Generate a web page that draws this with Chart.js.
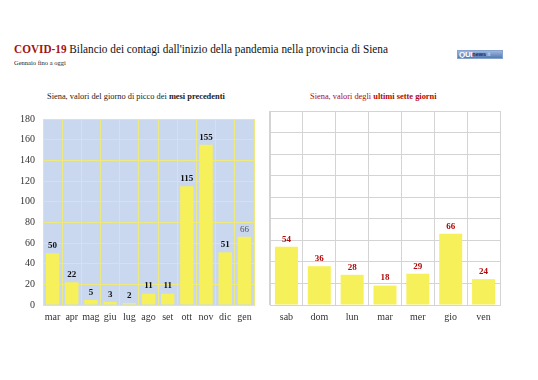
<!DOCTYPE html>
<html><head><meta charset="utf-8">
<script src="https://cdn.jsdelivr.net/npm/chart.js@4/dist/chart.umd.min.js"></script>
<style>
html,body{margin:0;padding:0;background:#fff;width:538px;height:380px;overflow:hidden;font-family:"Liberation Serif","DejaVu Serif",serif;}
.abs{position:absolute;white-space:nowrap;font-family:"Liberation Serif","DejaVu Serif",serif;}
#title{left:14px;top:42px;font-size:12px;color:#111;transform-origin:0 50%;}
#title b{color:#a51212;}
#sub{left:14px;top:59px;font-size:6.5px;color:#222;}
#t1{left:47px;top:92px;font-size:8.4px;color:#222;}
#t2{left:310px;top:92px;font-size:8.4px;color:#b00a0a;}
#logo{left:457px;top:50px;width:46px;height:9px;background:linear-gradient(#9ab8e0,#5479b2);border:1px solid #86a2cc;box-sizing:border-box;font-family:"Liberation Sans",sans-serif;display:flex;align-items:center;padding-left:1px;overflow:hidden;}
#logo span{line-height:1;display:block;}
#logo .q{color:#fff;font-weight:bold;font-size:8px;letter-spacing:-0.3px;}
#logo .n{color:#13295a;font-weight:bold;font-size:5.5px;margin-top:1px;}
#logo .i{color:#dce8f8;font-size:5.5px;margin-top:1px;}
#c1{position:absolute;left:0;top:105px;}
#c2{position:absolute;left:262px;top:105px;}
</style></head>
<body>
<div id="title" class="abs"><b>COVID-19</b> Bilancio dei contagi dall'inizio della pandemia nella provincia di Siena</div>
<div id="sub" class="abs">Gennaio fino a oggi</div>
<div id="logo" class="abs"><span class="q">QUI</span><span class="n">news</span><span class="i">.it</span></div>
<div id="t1" class="abs">Siena, valori del giorno di picco dei <b>mesi precedenti</b></div>
<div id="t2" class="abs">Siena, valori degli <b>ultimi sette giorni</b></div>
<canvas id="c1" width="262" height="225" style="width:262px;height:225px"></canvas>
<canvas id="c2" width="276" height="225" style="width:276px;height:225px"></canvas>
<script>
const months = ['mar','apr','mag','giu','lug','ago','set','ott','nov','dic','gen'];
const monthValues = [50,22,5,3,2,11,11,115,155,51,66];
const days = ['sab','dom','lun','mar','mer','gio','ven'];
const dayValues = [54,36,28,18,29,66,24];
const yMin = 0, yMax = 180, yStep = 20;

// fit the page title to the reference width
(function(){
  const t = document.getElementById('title');
  const w = t.getBoundingClientRect().width;
  t.style.transform = 'scaleX(' + (374 / w) + ')';
})();

const FONT = '"Liberation Serif", "DejaVu Serif", serif';

const bgPlugin = {
  id:'bg',
  beforeDraw(chart, args, opts){
    if(!opts.color) return;
    const {ctx, chartArea:a} = chart;
    ctx.save(); ctx.fillStyle = opts.color;
    ctx.fillRect(a.left, a.top, a.right-a.left, a.bottom-a.top);
    ctx.restore();
  }
};
const labelPlugin = {
  id:'vlabels',
  afterDatasetsDraw(chart, args, opts){
    const {ctx} = chart;
    const meta = chart.getDatasetMeta(0);
    const data = chart.data.datasets[0].data;
    ctx.save();
    ctx.textAlign='center'; ctx.textBaseline='bottom';
    meta.data.forEach((bar,i)=>{
      const st = opts.style(i, data.length);
      ctx.font = st.weight + ' 9px ' + FONT;
      ctx.fillStyle = st.color;
      ctx.fillText(String(data[i]), bar.x, bar.y - 3);
    });
    ctx.restore();
  }
};

function makeChart(id, labels, values, cfg){
  return new Chart(document.getElementById(id), {
    type:'bar',
    data:{labels, datasets:[{data:values, backgroundColor:'#f6f05a', borderWidth:0,
      barPercentage:0.7, categoryPercentage:1.0}]},
    plugins:[bgPlugin, labelPlugin],
    options:{
      responsive:false, animation:false, devicePixelRatio:1,
      layout:{padding:cfg.padding},
      plugins:{legend:{display:false}, tooltip:{enabled:false}, title:{display:false},
        bg:{color:cfg.bg}, vlabels:{style:cfg.labelStyle}},
      scales:{
        x:{grid:{color:cfg.grid, drawTicks:false, offset:true},
           border:{color:cfg.grid},
           ticks:{color:'#333', font:{family:FONT, size:10}, padding:6, maxRotation:0, autoSkip:false},
           afterFit(s){ s.height = 25; }},
        y:{min:yMin, max:yMax, ticks:{stepSize:yStep, display:cfg.yTicks, color:'#333', font:{family:FONT, size:10}, padding:8},
           grid:{color:cfg.grid, drawTicks:false},
           border:{color:cfg.grid},
           afterFit(s){ s.width = cfg.yWidth; }}
      }
    }
  });
}

makeChart('c1', months, monthValues, {
  padding:{left:0, right:8, top:7, bottom:0},
  bg:'#c9d7ef', grid:'#ede97e', yTicks:true, yWidth:43,
  labelStyle:(i,n)=> i===n-1 ? {weight:'normal', color:'#555'} : {weight:'bold', color:'#111'}
});
makeChart('c2', days, dayValues, {
  padding:{left:0, right:38, top:6, bottom:0},
  bg:null, grid:'#d4d4d4', yTicks:false, yWidth:8,
  labelStyle:()=>({weight:'bold', color:'#b00a0a'})
});
</script>
</body></html>
